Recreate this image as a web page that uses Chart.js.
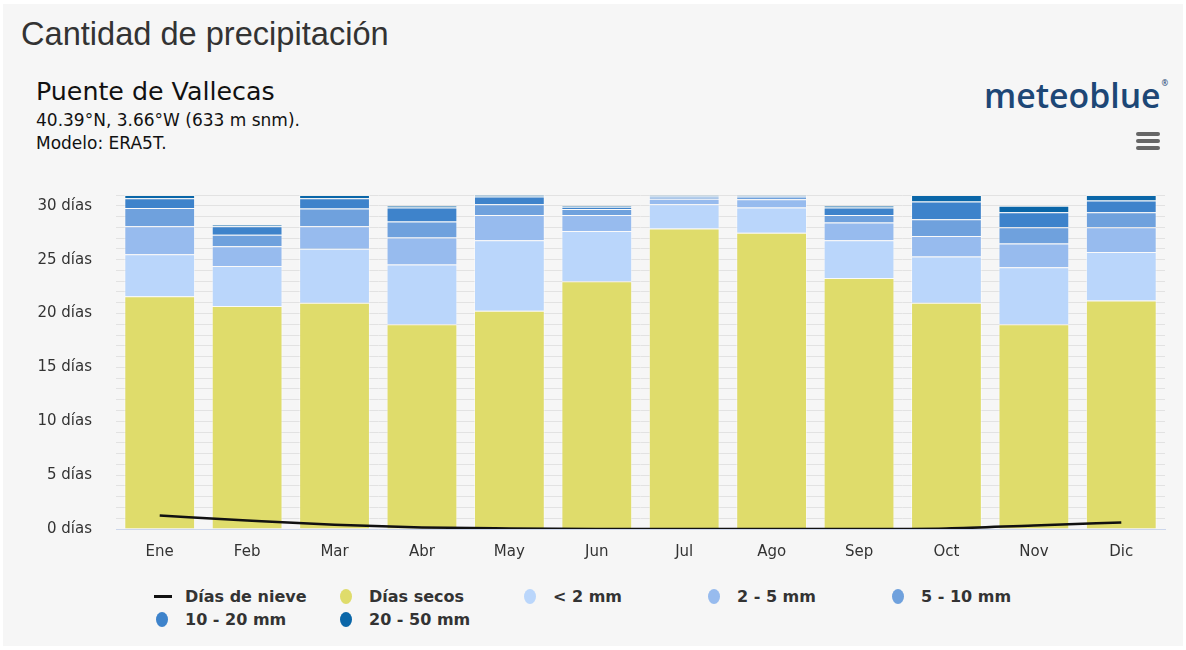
<!DOCTYPE html>
<html lang="es">
<head>
<meta charset="UTF-8">
<title>Cantidad de precipitación</title>
<script src="https://cdn.jsdelivr.net/npm/chart.js"></script>
<style>
  body { margin:0; width:1186px; height:650px; background:#fff; position:relative; overflow:hidden;
         font-family:"DejaVu Sans", sans-serif; color:#333; }
  .panel { position:absolute; left:3px; top:4px; width:1180px; height:642px; background:#f6f6f6; }
  .txt { position:absolute; white-space:nowrap; line-height:1; }
  #title { left:21px; top:15px; font:32.6px "Liberation Sans", Arial, sans-serif; color:#333; }
  #place { left:36px; top:79px; font-size:25.3px; color:#111; }
  #coords { left:36px; top:112px; font-size:17px; color:#111; }
  #model { left:36px; top:135px; font-size:17px; color:#111; }
  #logo { left:984px; top:72px; font:600 33.8px "Open Sans", sans-serif; color:#1d4776; }
  #logo sup { font-size:8px; vertical-align:top; position:relative; top:5px; margin-left:1px; }
  .burger { position:absolute; left:1136px; width:24px; height:4px; border-radius:2px; background:#666; }
  #wrap { position:absolute; left:0; top:162px; width:1186px; height:410px; }
  #legend { position:absolute; left:156px; top:585px; display:grid; grid-template-columns:repeat(5, 184px);
            grid-auto-rows:23px; font-weight:bold; font-size:16px; color:#333; }
  .item { position:relative; padding-left:29px; line-height:23px; white-space:nowrap; }
  .mk { position:absolute; left:0; top:4px; width:12px; height:15px; border-radius:50%; }
  .ln { position:absolute; left:-2px; top:10px; width:18px; height:3px; background:#111; }
</style>
</head>
<body>
<div class="panel"></div>
<div class="txt" id="title">Cantidad de precipitación</div>
<div class="txt" id="place">Puente de Vallecas</div>
<div class="txt" id="coords">40.39°N, 3.66°W (633 m snm).</div>
<div class="txt" id="model">Modelo: ERA5T.</div>
<div class="txt" id="logo">meteoblue<sup>®</sup></div>
<div class="burger" style="top:132px"></div>
<div class="burger" style="top:139px"></div>
<div class="burger" style="top:146px"></div>
<div id="wrap"><canvas id="chart" width="1186" height="410"></canvas></div>
<div id="legend"></div>

<script>
const months = ['Ene', 'Feb', 'Mar', 'Abr', 'May', 'Jun', 'Jul', 'Ago', 'Sep', 'Oct', 'Nov', 'Dic'];
const snowDays = [1.25, 0.8, 0.4, 0.15, 0.05, 0, 0, 0, 0, 0.05, 0.33, 0.6];
const dryDays  = [21.6, 20.7, 21.0, 19.0, 20.25, 23.0, 27.9, 27.5, 23.3, 21.0, 19.0, 21.2];
const under2   = [3.9, 3.7, 5.0, 5.55, 6.55, 4.65, 2.25, 2.35, 3.5, 4.3, 5.3, 4.5];
const mm2to5   = [2.6, 1.85, 2.1, 2.5, 2.35, 1.5, 0.5, 0.75, 1.65, 1.9, 2.2, 2.3];
const mm5to10  = [1.7, 1.05, 1.65, 1.5, 1.0, 0.55, 0.2, 0.25, 0.7, 1.55, 1.5, 1.4];
const mm10to20 = [0.9, 0.8, 0.95, 1.3, 0.7, 0.2, 0.1, 0.1, 0.7, 1.65, 1.4, 1.1];
const mm20to50 = [0.3, 0.15, 0.3, 0.15, 0.15, 0.1, 0.05, 0.05, 0.15, 0.6, 0.6, 0.5];
const yTicks = [0, 5, 10, 15, 20, 25, 30];

const bar = (label, data, color) => ({
  type: 'bar', label: label, data: data, backgroundColor: color,
  borderColor: 'rgba(255,255,255,0.45)', borderWidth: 1, stack: 'rain', order: 1
});

const chart = new Chart(document.getElementById('chart'), {
  data: {
    labels: months,
    datasets: [
      { type: 'line', label: 'Días de nieve', data: snowDays, borderColor: '#111', backgroundColor: '#111',
        borderWidth: 2.5, pointRadius: 0, cubicInterpolationMode: 'monotone', stack: 'snow', order: 0 },
      bar('Días secos', dryDays, '#dfdc6b'),
      bar('< 2 mm', under2, '#bad6fb'),
      bar('2 - 5 mm', mm2to5, '#97bbee'),
      bar('5 - 10 mm', mm5to10, '#6fa1dd'),
      bar('10 - 20 mm', mm10to20, '#3e83cb'),
      bar('20 - 50 mm', mm20to50, '#0a66a8')
    ]
  },
  options: {
    responsive: false,
    animation: false,
    layout: { padding: { top: 13, right: 21, left: 0, bottom: 0 } },
    datasets: { bar: { categoryPercentage: 0.81, barPercentage: 1 } },
    plugins: { legend: { display: false }, tooltip: { enabled: false } },
    scales: {
      x: {
        stacked: true,
        grid: { display: false, drawTicks: false },
        border: { display: true, color: '#ccd6eb', width: 1 },
        ticks: { padding: 14, color: '#333', font: { family: 'DejaVu Sans', size: 15 } },
        afterFit: s => { s.height = 43; }
      },
      y: {
        stacked: true,
        min: 0, max: 31,
        grid: { color: '#e2e2e2', lineWidth: 1, drawTicks: false },
        border: { display: false },
        ticks: {
          stepSize: 1, autoSkip: false, padding: 24, color: '#333',
          font: { family: 'DejaVu Sans', size: 15 },
          callback: v => yTicks.includes(v) ? v + ' días' : ''
        },
        afterFit: s => { s.width = 116; }
      }
    }
  }
});

// leyenda en HTML a partir de los datasets
const legend = document.getElementById('legend');
chart.data.datasets.forEach(ds => {
  const it = document.createElement('div');
  it.className = 'item';
  const m = document.createElement('span');
  if (ds.type === 'line') {
    m.className = 'ln';
  } else {
    m.className = 'mk';
    m.style.background = ds.backgroundColor;
  }
  it.appendChild(m);
  it.appendChild(document.createTextNode(ds.label));
  legend.appendChild(it);
});
</script>
</body>
</html>
